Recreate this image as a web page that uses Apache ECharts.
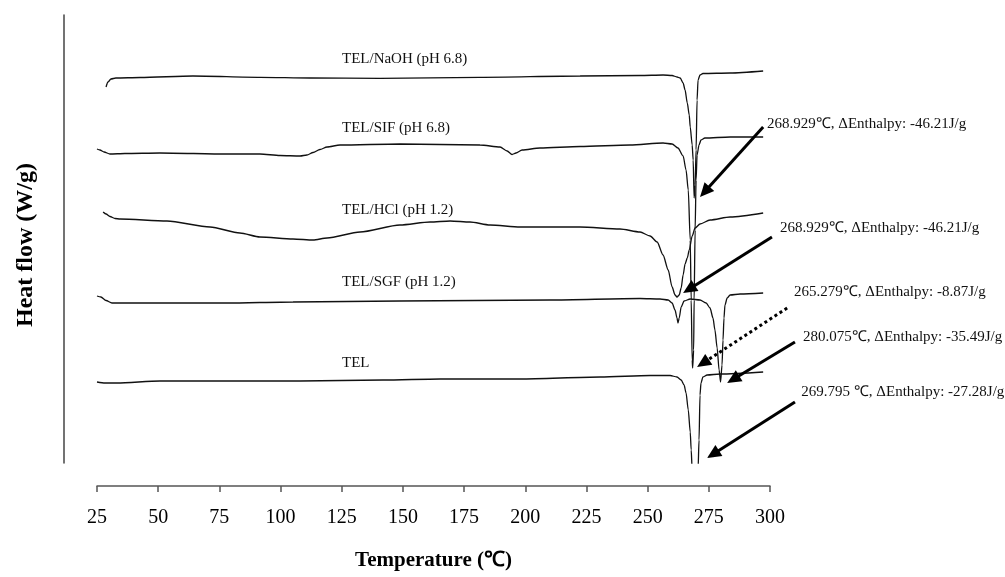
<!DOCTYPE html>
<html>
<head>
<meta charset="utf-8">
<script src="https://cdn.jsdelivr.net/npm/echarts@6/dist/echarts.min.js"></script>
<style>html,body{margin:0;padding:0;background:#fff}#main{width:1005px;height:577px}</style>
</head>
<body>
<div id="main"></div>
<script>
// ---- data (temperature in °C, heat flow in offset arbitrary units) ----
const xTicks = [25, 50, 75, 100, 125, 150, 175, 200, 225, 250, 275, 300];

const seriesNames = ['TEL/NaOH (pH 6.8)', 'TEL/SIF (pH 6.8)', 'TEL/HCl (pH 1.2)', 'TEL/SGF (pH 1.2)', 'TEL'];

const tempNaOH = [28.7, 29.5, 30.7, 32.7, 42.6, 64.2, 91.6, 112.0, 140.7, 181.5, 222.4, 246.9, 256.3, 260.0, 262.0, 263.3, 264.5, 265.3, 266.2, 267.0, 267.4, 268.2, 268.6, 269.0, 269.4, 269.8, 270.2, 270.6, 271.4, 272.6, 283.7, 297.2];
const flowNaOH = [376, 381, 384, 385, 385.5, 387, 385.7, 385, 384.7, 385.7, 387, 387.5, 388, 387.5, 386, 385, 380, 373, 360, 348, 336, 318, 303, 265, 278, 313, 363, 383, 388, 389.5, 390, 392];

const tempSIF = [25.0, 26.2, 27.9, 30.3, 36.4, 50.7, 78.1, 91.6, 99.8, 108.0, 110.8, 113.3, 116.1, 119.0, 124.3, 148.8, 181.5, 189.7, 192.6, 194.6, 196.2, 198.7, 206.0, 222.4, 242.8, 256.3, 260.0, 262.4, 264.5, 265.7, 266.6, 267.4, 267.8, 268.2, 268.4, 268.8, 269.0, 269.4, 269.8, 270.2, 271.0, 271.8, 273.4, 283.7, 297.2];
const flowSIF = [314, 313, 311, 309, 309.5, 310, 309, 309, 307.5, 307, 308, 310.5, 313.5, 316, 318, 319, 318, 316, 312, 308.5, 310, 313, 315, 316.5, 318, 320, 319, 315, 307, 293, 273, 223, 163, 103, 95, 113, 163, 233, 283, 308, 318, 323, 325, 326, 326];

const tempHCl = [27.5, 28.7, 30.3, 32.4, 34.4, 53.6, 71.2, 83.4, 91.6, 105.1, 113.3, 119.0, 132.5, 148.8, 161.1, 169.3, 177.4, 185.6, 197.9, 222.4, 238.7, 246.9, 251.0, 253.9, 256.3, 258.4, 260.0, 261.2, 262.0, 262.9, 263.7, 264.5, 265.3, 266.2, 267.0, 268.2, 269.4, 271.4, 275.5, 283.7, 297.2];
const flowHCl = [251, 249, 246.5, 244.5, 244, 242, 236, 230, 226, 224, 223, 225, 231, 238, 241, 242, 241, 238, 236, 236, 234, 231, 227, 221, 208, 193, 176, 168, 166, 168, 175, 188, 199, 205, 213, 227, 235, 239, 243, 246, 250];

const tempSGF = [25.0, 26.6, 28.7, 31.1, 37.3, 64.2, 78.1, 105.1, 148.8, 210.1, 246.9, 255.1, 258.4, 260.0, 261.2, 262.0, 262.4, 262.9, 263.7, 264.9, 267.4, 271.4, 273.9, 275.5, 276.7, 277.5, 278.4, 279.2, 279.8, 280.4, 280.8, 281.2, 281.6, 282.5, 283.7, 287.8, 297.2];
const flowSGF = [167, 166, 162.5, 160, 160, 160, 160, 161, 162, 163, 164.5, 164, 163, 160, 153, 145, 140, 145, 156, 162, 164, 163, 160, 155, 145, 133, 115, 93, 81, 98, 123, 145, 158, 165, 168, 169, 170];

const tempTEL = [25.0, 28.3, 33.2, 50.7, 78.1, 108.0, 141.9, 165.2, 197.9, 230.6, 251.0, 259.2, 262.0, 263.7, 264.9, 265.7, 266.6, 267.4, 267.8, 268.2, 269.4, 270.6, 271.0, 271.4, 271.8, 272.6, 274.3, 279.6, 297.2];
const flowTEL = [81, 80, 80, 82, 82, 82, 83, 84, 84, 86, 87.5, 87.5, 86, 83, 78, 70, 53, 31, 13, -7, -22, -7, 23, 68, 80, 86, 88, 89, 91];

// curve name labels (anchored in data space)
const nameLabelTemp = [125.1, 125.1, 125.1, 125.1, 125.1];
const nameLabelFlow = [404, 335, 253, 181, 100];

// peak annotations
const peakNotes = [
  '268.929℃, ΔEnthalpy: -46.21J/g',
  '268.929℃, ΔEnthalpy: -46.21J/g',
  '265.279℃, ΔEnthalpy: -8.87J/g',
  '280.075℃, ΔEnthalpy: -35.49J/g',
  '269.795 ℃, ΔEnthalpy: -27.28J/g'
];
const noteTemp = [298.8, 304.1, 309.8, 313.5, 312.8];
const noteFlow = [339, 235, 171, 126, 71];
const arrowTailTemp = [297.2, 300.8, 307.0, 310.2, 310.2];
const arrowTailFlow = [336, 226, 155, 121, 61];
const arrowTipTemp = [271.4, 264.5, 270.2, 282.5, 274.3];
const arrowTipFlow = [266, 170, 96, 80, 5];
const arrowDotted = [false, false, true, false, false];

// ---- chart ----
const zip = (a, b) => a.map((v, i) => [v, b[i]]);
const curves = [
  zip(tempNaOH, flowNaOH), zip(tempSIF, flowSIF), zip(tempHCl, flowHCl),
  zip(tempSGF, flowSGF), zip(tempTEL, flowTEL)
];

const serif = 'Liberation Serif, Times New Roman, serif';
const chart = echarts.init(document.getElementById('main'), null, {renderer: 'canvas'});

const option = {
  animation: false,
  backgroundColor: '#fff',
  grid: {left: 97, right: 235, top: 15, bottom: 114, containLabel: false},
  xAxis: {
    type: 'value', min: 25, max: 300, interval: 25,
    offset: 23,
    name: 'Temperature (℃)', nameLocation: 'middle', nameGap: 64,
    nameTextStyle: {fontFamily: serif, fontSize: 21, fontWeight: 'bold', color: '#000'},
    axisLine: {show: true, onZero: false, lineStyle: {color: '#555', width: 1.5}},
    axisTick: {show: true, length: 6, lineStyle: {color: '#555', width: 1.5}},
    axisLabel: {fontFamily: serif, fontSize: 20, color: '#000', margin: 22,
      formatter: v => xTicks.includes(v) ? String(v) : ''},
    splitLine: {show: false}
  },
  yAxis: {
    type: 'value', min: 0, max: 448,
    offset: 33,
    name: 'Heat flow (W/g)', nameLocation: 'middle', nameRotate: 90, nameGap: 26,
    nameTextStyle: {fontFamily: serif, fontSize: 24, fontWeight: 'bold', color: '#000', padding: [0, 12, 0, 0]},
    axisLine: {show: true, onZero: false, lineStyle: {color: '#444', width: 1.5}},
    axisTick: {show: false},
    axisLabel: {show: false},
    splitLine: {show: false}
  },
  series: curves.map((d, i) => ({
    name: seriesNames[i],
    type: 'line',
    data: d,
    showSymbol: false,
    smooth: 0.25,
    smoothMonotone: 'x',
    clip: true,
    lineStyle: {color: '#111', width: 1.3},
    z: 2
  }))
};
chart.setOption(option);

// annotations placed through the library's scales
function toPx(t, v) { return chart.convertToPixel({gridIndex: 0}, [t, v]); }
const graphics = [];
seriesNames.forEach((name, i) => {
  const p = toPx(nameLabelTemp[i], nameLabelFlow[i]);
  graphics.push({type: 'text', x: p[0], y: p[1], z: 10,
    style: {text: name, font: '15px ' + serif, fill: '#111', align: 'left', verticalAlign: 'middle'}});
});
peakNotes.forEach((txt, i) => {
  const p = toPx(noteTemp[i], noteFlow[i]);
  graphics.push({type: 'text', x: p[0], y: p[1], z: 10,
    style: {text: txt, font: '15px ' + serif, fill: '#111', align: 'left', verticalAlign: 'middle'}});
  const a = toPx(arrowTailTemp[i], arrowTailFlow[i]);
  const b = toPx(arrowTipTemp[i], arrowTipFlow[i]);
  const dx = b[0] - a[0], dy = b[1] - a[1];
  const len = Math.sqrt(dx * dx + dy * dy);
  const ux = dx / len, uy = dy / len;
  const headL = 14, headW = 6.5;
  const base = [b[0] - ux * headL, b[1] - uy * headL];
  graphics.push({type: 'line', z: 10,
    shape: {x1: a[0], y1: a[1], x2: base[0] + ux * 1, y2: base[1] + uy * 1},
    style: {stroke: '#000', lineWidth: 3, lineDash: arrowDotted[i] ? [3, 3] : null}});
  graphics.push({type: 'polygon', z: 10,
    shape: {points: [b, [base[0] - uy * headW, base[1] + ux * headW], [base[0] + uy * headW, base[1] - ux * headW]]},
    style: {fill: '#000'}});
});
chart.setOption({graphic: graphics});
</script>
</body>
</html>
